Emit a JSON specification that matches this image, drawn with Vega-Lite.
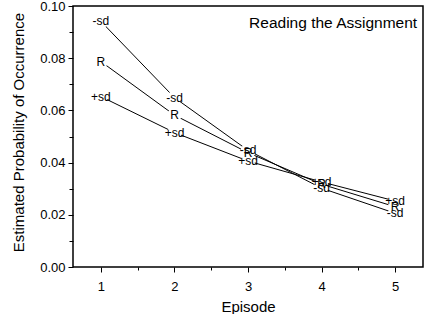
{
  "$schema": "https://vega.github.io/schema/vega-lite/v6.json",
  "width": 350,
  "height": 261,
  "padding": {"left": 11, "top": 0, "right": 3, "bottom": 0},
  "background": "white",
  "config": {
    "font": "Liberation Sans",
    "view": {"stroke": "black", "strokeWidth": 1.5},
    "axis": {
      "domainColor": "black",
      "tickColor": "black",
      "labelColor": "black",
      "titleColor": "black",
      "grid": false,
      "labelFontSize": 13,
      "titleFontSize": 15,
      "titleFontWeight": "normal"
    }
  },
  "data": {
    "values": [
      {"series": "-sd", "episode": 1, "prob": 0.0941},
      {"series": "-sd", "episode": 2, "prob": 0.0649},
      {"series": "-sd", "episode": 3, "prob": 0.0447},
      {"series": "-sd", "episode": 4, "prob": 0.0302},
      {"series": "-sd", "episode": 5, "prob": 0.0206},
      {"series": "R", "episode": 1, "prob": 0.0787},
      {"series": "R", "episode": 2, "prob": 0.0582},
      {"series": "R", "episode": 3, "prob": 0.0438},
      {"series": "R", "episode": 4, "prob": 0.0317},
      {"series": "R", "episode": 5, "prob": 0.0231},
      {"series": "+sd", "episode": 1, "prob": 0.0653},
      {"series": "+sd", "episode": 2, "prob": 0.0515},
      {"series": "+sd", "episode": 3, "prob": 0.0406},
      {"series": "+sd", "episode": 4, "prob": 0.0326},
      {"series": "+sd", "episode": 5, "prob": 0.0253}
    ]
  },
  "resolve": {"axis": {"x": "independent", "y": "independent"}},
  "layer": [
    {
      "mark": {"type": "line", "color": "black", "strokeWidth": 1},
      "encoding": {
        "x": {
          "field": "episode", "type": "quantitative",
          "scale": {"domain": [0.62, 5.38], "nice": false, "zero": false},
          "axis": {"orient": "bottom", "values": [1, 2, 3, 4, 5], "title": "Episode", "tickSize": 5, "labelPadding": 8, "titlePadding": 6, "domain": false}
        },
        "y": {
          "field": "prob", "type": "quantitative",
          "scale": {"domain": [0, 0.1], "nice": false},
          "axis": {"orient": "left", "values": [0, 0.02, 0.04, 0.06, 0.08, 0.1], "format": ".2f", "title": "Estimated Probability of Occurrence", "tickSize": 5, "labelPadding": 3, "titlePadding": 13, "titleY": 126, "domain": false}
        },
        "detail": {"field": "series"}
      }
    },
    {
      "mark": {"type": "point", "shape": "circle", "filled": true, "color": "white", "opacity": 1, "size": 200},
      "encoding": {
        "x": {"field": "episode", "type": "quantitative", "axis": {"orient": "bottom", "values": [1.5, 2.5, 3.5, 4.5], "labels": false, "title": null, "tickSize": 3, "domain": false}},
        "y": {"field": "prob", "type": "quantitative", "axis": {"orient": "left", "values": [0.01, 0.03, 0.05, 0.07, 0.09], "labels": false, "title": null, "tickSize": 4, "domain": false}}
      }
    },
    {
      "mark": {"type": "text", "color": "black", "fontSize": 12, "align": "center", "baseline": "middle"},
      "encoding": {
        "x": {"field": "episode", "type": "quantitative", "axis": null},
        "y": {"field": "prob", "type": "quantitative", "axis": null},
        "text": {"field": "series"}
      }
    },
    {
      "data": {"values": [{"label": "Reading the Assignment"}]},
      "mark": {"type": "text", "color": "black", "fontSize": 15.5, "align": "right", "baseline": "middle"},
      "encoding": {
        "x": {"datum": 5.3, "type": "quantitative", "axis": null},
        "y": {"datum": 0.0935, "type": "quantitative", "axis": null},
        "text": {"field": "label"}
      }
    }
  ]
}
